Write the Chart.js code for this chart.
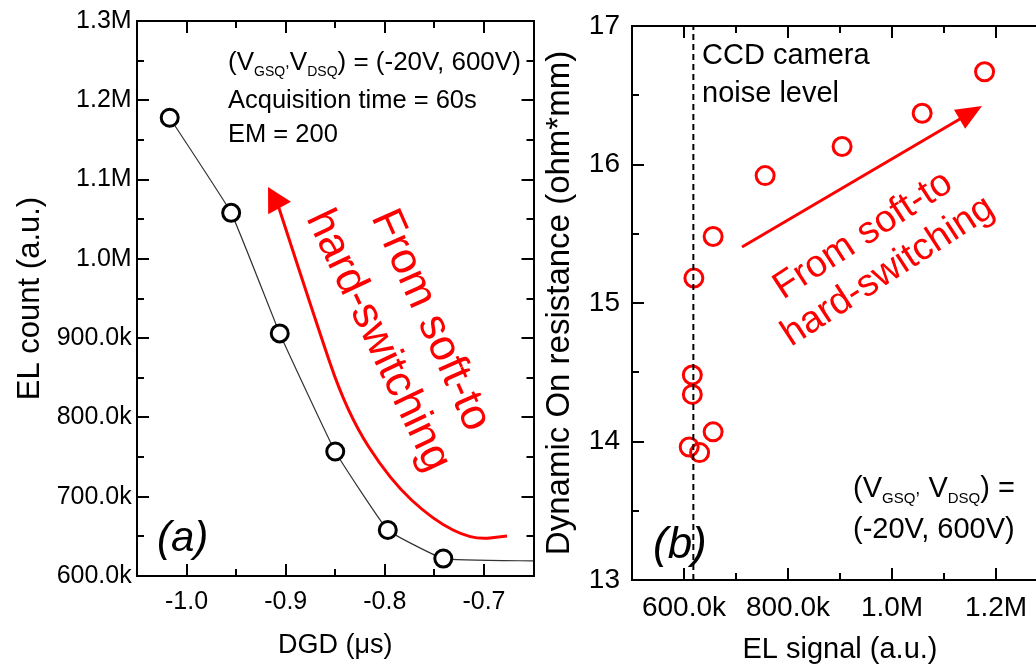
<!DOCTYPE html>
<html>
<head>
<meta charset="utf-8">
<title>EL count and dynamic on resistance</title>
<script src="https://cdn.jsdelivr.net/npm/chart.js@4.4.1/dist/chart.umd.min.js"></script>
<style>
  html, body { margin: 0; padding: 0; background: #fff; width: 1036px; height: 669px; overflow: hidden; }
  .panel { position: absolute; top: 0; height: 669px; }
  #panelA { left: 0; width: 545px; }
  #panelB { left: 540px; width: 520px; }
</style>
</head>
<body>
<div class="panel" id="panelA"><canvas id="chartA"></canvas></div>
<div class="panel" id="panelB"><canvas id="chartB"></canvas></div>
<script>
// (a) EL count vs DGD -- last entry is where the fitted line runs out of the frame
const dgd = [-1.017, -0.955, -0.906, -0.850, -0.797, -0.741, -0.65];
const elCount = [1178e3, 1058e3, 906e3, 757e3, 658e3, 622e3, 619e3];

// (b) dynamic on resistance vs EL signal
const elSignal = [1178e3, 1058e3, 904e3, 756e3, 656e3, 619e3, 616e3, 616e3, 656e3, 610e3, 630e3];
const dynRon = [16.67, 16.37, 16.13, 15.92, 15.48, 15.18, 14.48, 14.34, 14.07, 13.96, 13.92];
const noiseLevel = 618e3;

// ticks
const dgdTicks = [-1.0, -0.9, -0.8, -0.7];
const dgdLabels = ['-1.0', '-0.9', '-0.8', '-0.7'];
const countTicks = [600e3, 700e3, 800e3, 900e3, 1000e3, 1100e3, 1200e3, 1300e3];
const countLabels = ['600.0k', '700.0k', '800.0k', '900.0k', '1.0M', '1.1M', '1.2M', '1.3M'];
const signalTicks = [600e3, 800e3, 1000e3, 1200e3];
const signalLabels = ['600.0k', '800.0k', '1.0M', '1.2M'];
const ronTicks = [13, 14, 15, 16, 17];
const ronLabels = ['13', '14', '15', '16', '17'];

const FONT = '"Liberation Sans", Arial, Helvetica, sans-serif';
const RED = '#ff0000';

Chart.defaults.font.family = FONT;
Chart.defaults.color = '#000';

// labelled axis, or a mirrored side of the frame when no labels given
function mainAxis(o) {
  const horiz = o.position === 'bottom' || o.position === 'top';
  return {
    type: 'linear', position: o.position, min: o.min, max: o.max, weight: 2,
    border: { display: true, color: '#000', width: 2 },
    grid: { drawOnChartArea: false, drawTicks: false },
    ticks: o.labels ? {
      display: true, color: '#000', autoSkip: false, maxRotation: 0, includeBounds: false,
      font: { family: FONT, size: o.tickSize, lineHeight: 1 },
      padding: o.tickPad,
      callback: (v, i) => o.labels[i]
    } : { display: false, includeBounds: false },
    afterBuildTicks: s => { s.ticks = o.values.map(value => ({ value })); },
    title: o.title ? {
      display: true, text: o.title, color: '#000',
      font: { family: FONT, size: o.titleSize, lineHeight: 1 },
      padding: o.titlePad
    } : { display: false },
    afterFit: s => { if (horiz) s.height = o.size || 0; else s.width = o.size || 0; }
  };
}

// unlabelled axis that only supplies minor tick positions
function minorAxis(position, min, max, step) {
  const horiz = position === 'bottom' || position === 'top';
  return {
    type: 'linear', position, min, max, weight: 1,
    border: { display: false },
    grid: { display: false, drawTicks: false },
    ticks: { display: false, stepSize: step, includeBounds: false },
    afterFit: s => { if (horiz) s.height = 0; else s.width = 0; }
  };
}

// Origin style ticks: pointing into the plot on all four sides
const frameTicks = {
  id: 'frameTicks',
  afterDatasetsDraw(chart) {
    const { ctx, chartArea: a } = chart;
    ctx.save();
    ctx.strokeStyle = '#000';
    ctx.lineWidth = 2;
    ctx.beginPath();
    for (const s of Object.values(chart.scales)) {
      const len = s.id.includes('Minor') ? 7 : 12;
      for (const t of s.ticks) {
        if (t.value < s.min || t.value > s.max) continue;
        const p = Math.round(s.getPixelForValue(t.value));
        if (s.position === 'bottom') { ctx.moveTo(p, a.bottom); ctx.lineTo(p, a.bottom - len); }
        else if (s.position === 'top') { ctx.moveTo(p, a.top); ctx.lineTo(p, a.top + len); }
        else if (s.position === 'left') { ctx.moveTo(a.left, p); ctx.lineTo(a.left + len, p); }
        else { ctx.moveTo(a.right, p); ctx.lineTo(a.right - len, p); }
      }
    }
    ctx.stroke();
    ctx.restore();
  }
};

function drawRuns(ctx, x, y, runs, italic) {
  for (const [text, size, dy] of runs) {
    ctx.font = (italic ? 'italic ' : '') + size + 'px ' + FONT;
    ctx.fillText(text, x, y + dy);
    x += ctx.measureText(text).width;
  }
}

function rotatedText(ctx, text, x, y, deg, size) {
  ctx.save();
  ctx.translate(x, y);
  ctx.rotate(deg * Math.PI / 180);
  ctx.font = size + 'px ' + FONT;
  ctx.fillText(text, 0, 0);
  ctx.restore();
}

function arrowHead(ctx, tipX, tipY, fromX, fromY, len, half) {
  const dx = tipX - fromX, dy = tipY - fromY;
  const d = Math.hypot(dx, dy);
  const ux = dx / d, uy = dy / d;
  const bx = tipX - ux * len, by = tipY - uy * len;
  ctx.beginPath();
  ctx.moveTo(tipX, tipY);
  ctx.lineTo(bx - uy * half, by + ux * half);
  ctx.lineTo(bx + uy * half, by - ux * half);
  ctx.closePath();
  ctx.fill();
}

function smoothPath(ctx, pts) {
  ctx.beginPath();
  ctx.moveTo(pts[0][0], pts[0][1]);
  for (let i = 1; i < pts.length - 1; i++) {
    const mx = (pts[i][0] + pts[i + 1][0]) / 2, my = (pts[i][1] + pts[i + 1][1]) / 2;
    ctx.quadraticCurveTo(pts[i][0], pts[i][1], mx, my);
  }
  const last = pts[pts.length - 1];
  ctx.lineTo(last[0], last[1]);
  ctx.stroke();
}

const notesA = {
  id: 'notesA',
  afterDraw(chart) {
    const ctx = chart.ctx;
    ctx.save();
    ctx.fillStyle = '#000';
    ctx.textAlign = 'left';
    ctx.textBaseline = 'alphabetic';
    drawRuns(ctx, 228, 70, [['(V', 26, 0], ['GSQ', 14, 6], [',', 17, -3], ['V', 26, 0], ['DSQ', 14, 6], [') = (-20V, 600V)', 26, 0]]);
    drawRuns(ctx, 228, 108, [['Acquisition time = 60s', 25.5, 0]]);
    drawRuns(ctx, 228, 142, [['EM = 200', 25.5, 0]]);
    drawRuns(ctx, 157, 551, [['(a)', 42, 0]], true);

    ctx.strokeStyle = RED;
    ctx.fillStyle = RED;
    ctx.lineWidth = 3;
    smoothPath(ctx, [[278, 205], [313, 313], [347, 413], [390, 480], [433, 520], [473, 540], [507, 536]]);
    arrowHead(ctx, 268, 187, 279, 207, 24, 13);
    rotatedText(ctx, 'From soft-to', 371, 217, 66, 44);
    rotatedText(ctx, 'hard-switching', 306, 218, 64.5, 44);
    ctx.restore();
  }
};

const notesB = {
  id: 'notesB',
  afterDraw(chart) {
    const ctx = chart.ctx;
    ctx.save();
    ctx.fillStyle = '#000';
    ctx.textAlign = 'left';
    ctx.textBaseline = 'alphabetic';
    drawRuns(ctx, 162, 64, [['CCD camera', 29, 0]]);
    drawRuns(ctx, 162, 102, [['noise level', 29, 0]]);
    drawRuns(ctx, 313, 497, [['(V', 29, 0], ['GSQ', 15, 6], [',', 18, -3], [' V', 29, 0], ['DSQ', 15, 6], [') =', 29, 0]]);
    drawRuns(ctx, 313, 538, [['(-20V, 600V)', 29, 0]]);
    drawRuns(ctx, 113, 558, [['(b)', 44, 0]], true);

    ctx.strokeStyle = RED;
    ctx.fillStyle = RED;
    ctx.lineWidth = 3;
    ctx.beginPath();
    ctx.moveTo(202, 247);
    ctx.lineTo(425, 116);
    ctx.stroke();
    arrowHead(ctx, 442, 106, 202, 247, 26, 11);
    rotatedText(ctx, 'From soft-to', 243, 300, -33, 38);
    rotatedText(ctx, 'hard-switching', 251, 347, -33, 38);
    ctx.restore();
  }
};

new Chart(document.getElementById('chartA'), {
  type: 'line',
  data: {
    datasets: [{
      data: dgd.map((x, i) => ({ x, y: elCount[i] })),
      borderColor: '#333',
      borderWidth: 1.2,
      tension: 0.1,
      pointRadius: dgd.map((x, i) => i === dgd.length - 1 ? 0 : 8.5),
      pointBorderWidth: 3,
      pointBorderColor: '#000',
      pointBackgroundColor: '#fff'
    }]
  },
  options: {
    responsive: true,
    maintainAspectRatio: false,
    animation: false,
    layout: { padding: { left: 0, top: 21, right: 7, bottom: 0 } },
    plugins: { legend: { display: false }, tooltip: { enabled: false } },
    scales: {
      x: mainAxis({ position: 'bottom', min: -1.05, max: -0.65, values: dgdTicks, labels: dgdLabels,
        tickSize: 25, tickPad: 13.5, size: 93, title: 'DGD (\u03bcs)', titleSize: 27, titlePad: { top: 0, bottom: 9.5 } }),
      xMinor: minorAxis('bottom', -1.05, -0.65, 0.05),
      xTop: mainAxis({ position: 'top', min: -1.05, max: -0.65, values: dgdTicks }),
      xTopMinor: minorAxis('top', -1.05, -0.65, 0.05),
      y: mainAxis({ position: 'left', min: 600e3, max: 1300e3, values: countTicks, labels: countLabels,
        tickSize: 25, tickPad: 5.3, size: 137, title: 'EL count (a.u.)', titleSize: 31, titlePad: { top: 14.5, bottom: 0 } }),
      yMinor: minorAxis('left', 600e3, 1300e3, 50e3),
      yRight: mainAxis({ position: 'right', min: 600e3, max: 1300e3, values: countTicks }),
      yRightMinor: minorAxis('right', 600e3, 1300e3, 50e3)
    }
  },
  plugins: [frameTicks, notesA]
});

new Chart(document.getElementById('chartB'), {
  type: 'scatter',
  data: {
    datasets: [{
      type: 'line',
      order: 0,
      data: [{ x: noiseLevel, y: ronTicks[0] }, { x: noiseLevel, y: ronTicks[ronTicks.length - 1] }],
      borderColor: '#000',
      borderWidth: 2,
      borderDash: [6, 4],
      pointRadius: 0
    }, {
      order: 1,
      data: elSignal.map((x, i) => ({ x, y: dynRon[i] })),
      pointRadius: 9,
      pointBorderWidth: 3,
      pointBorderColor: RED,
      pointBackgroundColor: 'rgba(0,0,0,0)'
    }]
  },
  options: {
    responsive: true,
    maintainAspectRatio: false,
    animation: false,
    layout: { padding: { left: 0, top: 23, right: 9, bottom: 0 } },
    plugins: { legend: { display: false }, tooltip: { enabled: false } },
    scales: {
      x: mainAxis({ position: 'bottom', min: 500e3, max: 1300e3, values: signalTicks, labels: signalLabels,
        tickSize: 28, tickPad: 14, size: 89, title: 'EL signal (a.u.)', titleSize: 29, titlePad: { top: 0, bottom: 4.5 } }),
      xMinor: minorAxis('bottom', 500e3, 1300e3, 100e3),
      xTop: mainAxis({ position: 'top', min: 500e3, max: 1300e3, values: signalTicks }),
      xTopMinor: minorAxis('top', 500e3, 1300e3, 100e3),
      y: mainAxis({ position: 'left', min: 13, max: 17, values: ronTicks, labels: ronLabels,
        tickSize: 28, tickPad: 12, size: 92, title: 'Dynamic On resistance (ohm*mm)', titleSize: 33, titlePad: { top: 3.5, bottom: 0 } }),
      yMinor: minorAxis('left', 13, 17, 0.5),
      yRight: mainAxis({ position: 'right', min: 13, max: 17, values: ronTicks }),
      yRightMinor: minorAxis('right', 13, 17, 0.5)
    }
  },
  plugins: [frameTicks, notesB]
});
</script>
</body>
</html>
